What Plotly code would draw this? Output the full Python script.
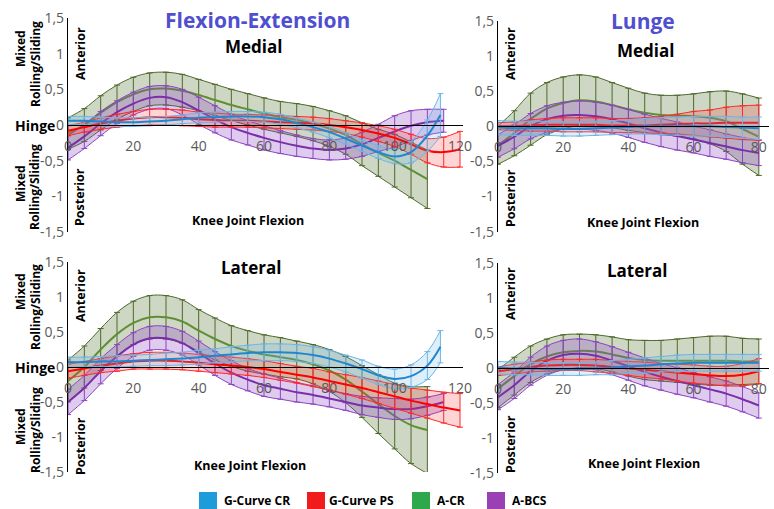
import numpy as np
import plotly.graph_objects as go

W, H = 774, 509

# ---------------- DATA ----------------
series_names = ["G-Curve CR", "G-Curve PS", "A-CR", "A-BCS"]

x_fe_blue = [0,5,10,15,20,25,30,35,40,45,50,55,60,65,70,75,80,85,90,95,100,105,110,114]
x_fe_red = [0,5,10,15,20,25,30,35,40,45,50,55,60,65,70,75,80,85,90,95,100,105,110,115,120]
x_fe_green = [0,5,10,15,20,25,30,35,40,45,50,55,60,65,70,75,80,85,90,95,100,105,110]
x_fe_purple = [0,5,10,15,20,25,30,35,40,45,50,55,60,65,70,75,80,85,90,95,100,105,110,115]
x_lunge = [0,5,10,15,20,25,30,35,40,45,50,55,60,65,70,75,80]

# Flexion-Extension, Medial
fem_blue = [0.06,0.06,0.05,0.04,0.04,0.05,0.06,0.08,0.10,0.11,0.12,0.12,0.11,0.08,0.03,-0.03,-0.10,-0.19,-0.29,-0.38,-0.44,-0.38,-0.15,0.14]
fem_blue_sd = [0.06,0.06,0.06,0.06,0.06,0.06,0.06,0.06,0.07,0.07,0.07,0.07,0.07,0.07,0.07,0.07,0.08,0.08,0.08,0.09,0.10,0.15,0.22,0.30]
fem_red = [-0.08,-0.03,0.02,0.06,0.09,0.11,0.11,0.10,0.08,0.07,0.06,0.06,0.05,0.04,0.03,0.02,0.00,-0.03,-0.07,-0.12,-0.18,-0.27,-0.36,-0.38,-0.34]
fem_red_sd = [0.07,0.07,0.08,0.09,0.10,0.11,0.11,0.11,0.10,0.10,0.09,0.09,0.09,0.09,0.09,0.09,0.09,0.09,0.10,0.11,0.12,0.14,0.17,0.21,0.25]
fem_green = [-0.12,0.00,0.17,0.32,0.43,0.50,0.51,0.48,0.42,0.35,0.28,0.22,0.16,0.11,0.07,0.02,-0.05,-0.14,-0.27,-0.39,-0.50,-0.63,-0.76]
fem_green_sd = [0.22,0.23,0.24,0.24,0.24,0.23,0.23,0.23,0.22,0.22,0.22,0.22,0.22,0.22,0.23,0.24,0.25,0.27,0.30,0.33,0.37,0.39,0.41]
fem_purple = [-0.32,-0.16,0.02,0.18,0.30,0.38,0.39,0.32,0.20,0.08,-0.03,-0.11,-0.18,-0.24,-0.29,-0.33,-0.35,-0.33,-0.27,-0.18,-0.09,-0.01,0.04,0.06]
fem_purple_sd = [0.17,0.17,0.17,0.16,0.16,0.16,0.16,0.18,0.19,0.19,0.18,0.17,0.17,0.16,0.15,0.14,0.14,0.15,0.17,0.19,0.22,0.21,0.18,0.16]

# Flexion-Extension, Lateral
fel_blue = [0.07,0.07,0.08,0.08,0.09,0.10,0.11,0.12,0.14,0.16,0.18,0.20,0.21,0.21,0.20,0.17,0.12,0.05,-0.03,-0.12,-0.17,-0.13,0.02,0.29]
fel_blue_sd = [0.07,0.07,0.07,0.08,0.08,0.08,0.09,0.09,0.10,0.10,0.11,0.11,0.12,0.12,0.12,0.12,0.12,0.12,0.13,0.13,0.14,0.16,0.20,0.23]
fel_red = [-0.06,-0.02,0.02,0.05,0.08,0.09,0.09,0.08,0.06,0.04,0.02,0.00,-0.03,-0.07,-0.11,-0.15,-0.20,-0.25,-0.30,-0.36,-0.42,-0.48,-0.53,-0.58,-0.62]
fel_red_sd = [0.10,0.10,0.10,0.11,0.11,0.12,0.12,0.12,0.12,0.12,0.12,0.12,0.12,0.12,0.12,0.13,0.13,0.14,0.15,0.16,0.17,0.18,0.20,0.22,0.24]
fel_green = [-0.20,0.00,0.25,0.47,0.63,0.71,0.71,0.65,0.52,0.40,0.30,0.23,0.18,0.14,0.10,0.04,-0.05,-0.18,-0.35,-0.53,-0.70,-0.83,-0.90]
fel_green_sd = [0.30,0.30,0.30,0.31,0.31,0.31,0.31,0.31,0.30,0.30,0.29,0.29,0.28,0.28,0.27,0.28,0.30,0.33,0.37,0.42,0.47,0.55,0.62]
fel_purple = [-0.50,-0.30,-0.06,0.15,0.32,0.41,0.41,0.34,0.20,0.05,-0.08,-0.18,-0.26,-0.31,-0.36,-0.40,-0.45,-0.50,-0.55,-0.58,-0.60,-0.60,-0.56,-0.50]
fel_purple_sd = [0.18,0.18,0.18,0.17,0.17,0.17,0.17,0.17,0.17,0.17,0.17,0.16,0.16,0.15,0.14,0.13,0.12,0.12,0.13,0.14,0.15,0.14,0.13,0.12]

# Lunge, Medial
lm_blue = [-0.02,-0.03,-0.03,-0.03,-0.04,-0.04,-0.03,-0.02,-0.01,0.00,0.00,0.00,0.00,0.00,-0.01,-0.02,-0.03]
lm_blue_sd = [0.10,0.10,0.10,0.10,0.10,0.10,0.10,0.10,0.10,0.11,0.12,0.13,0.14,0.14,0.15,0.15,0.16]
lm_red = [0.00,0.00,0.01,0.02,0.02,0.02,0.02,0.01,0.01,0.01,0.02,0.03,0.04,0.04,0.05,0.05,0.05]
lm_red_sd = [0.05,0.06,0.08,0.09,0.10,0.10,0.10,0.10,0.10,0.11,0.12,0.14,0.17,0.19,0.22,0.24,0.25]
lm_green = [-0.27,-0.10,0.10,0.25,0.33,0.37,0.35,0.30,0.24,0.19,0.16,0.15,0.14,0.12,0.07,-0.04,-0.15]
lm_green_sd = [0.27,0.32,0.37,0.37,0.37,0.36,0.35,0.32,0.30,0.28,0.28,0.29,0.32,0.37,0.43,0.50,0.55]
lm_purple = [-0.28,-0.15,0.00,0.10,0.15,0.16,0.14,0.10,0.04,-0.03,-0.09,-0.14,-0.19,-0.24,-0.29,-0.34,-0.38]
lm_purple_sd = [0.16,0.17,0.18,0.19,0.19,0.20,0.20,0.20,0.20,0.20,0.20,0.20,0.19,0.19,0.18,0.18,0.18]

# Lunge, Lateral
ll_blue = [0.00,-0.01,-0.01,-0.02,-0.02,-0.02,-0.01,0.00,0.02,0.03,0.05,0.06,0.07,0.07,0.07,0.07,0.07]
ll_blue_sd = [0.09,0.09,0.09,0.09,0.09,0.09,0.09,0.10,0.10,0.11,0.11,0.12,0.12,0.12,0.12,0.12,0.12]
ll_red = [-0.05,-0.02,0.01,0.03,0.04,0.04,0.03,0.01,-0.01,-0.03,-0.05,-0.07,-0.09,-0.11,-0.12,-0.10,-0.05]
ll_red_sd = [0.06,0.07,0.07,0.08,0.08,0.08,0.09,0.09,0.10,0.11,0.11,0.12,0.13,0.13,0.14,0.16,0.18]
ll_green = [-0.30,-0.12,0.05,0.16,0.22,0.24,0.23,0.19,0.14,0.11,0.10,0.10,0.10,0.10,0.10,0.09,0.09]
ll_green_sd = [0.27,0.27,0.26,0.25,0.25,0.24,0.24,0.25,0.26,0.28,0.29,0.31,0.33,0.35,0.35,0.33,0.32]
ll_purple = [-0.42,-0.25,-0.05,0.10,0.18,0.20,0.17,0.10,0.02,-0.06,-0.13,-0.19,-0.25,-0.31,-0.37,-0.45,-0.54]
ll_purple_sd = [0.18,0.19,0.20,0.21,0.21,0.21,0.20,0.20,0.20,0.20,0.19,0.19,0.18,0.18,0.18,0.18,0.18]

fe_ticks = [0, 20, 40, 60, 80, 100, 120]
lunge_ticks = [0, 20, 40, 60, 80]
y_ticks = [-1.5, -1, -0.5, 0, 0.5, 1, 1.5]
y_ticktext = ["-1,5", "-1", "-0,5", "0", "0,5", "1", "1,5"]

# ---------------- STYLE ----------------
STY = {
    "A-CR": dict(mean="#5f8f35", bar="#4e6a2a", fill="rgba(78,106,42,0.28)"),
    "A-BCS": dict(mean="#7a2fa8", bar="#8c45c2", fill="rgba(140,69,194,0.28)"),
    "G-Curve PS": dict(mean="#ff0000", bar="#ff2a2a", fill="rgba(255,40,40,0.2)"),
    "G-Curve CR": dict(mean="#1f86d0", bar="#6fb5e6", fill="rgba(111,181,230,0.22)"),
}
LEG = {"G-Curve CR": "#1e9bdb", "G-Curve PS": "#f21b1b", "A-CR": "#2ea84a", "A-BCS": "#9b3fb5"}

FONT = "Open Sans"

def px(x):
    return x / W

def py(y):
    return 1 - y / H

fig = go.Figure()

panels = [
    ("", (68, 68 + 121 * 3.267), 18, 232, [0, 121], fe_ticks,
     [("A-CR", x_fe_green, fem_green, fem_green_sd),
      ("A-BCS", x_fe_purple, fem_purple, fem_purple_sd),
      ("G-Curve PS", x_fe_red, fem_red, fem_red_sd),
      ("G-Curve CR", x_fe_blue, fem_blue, fem_blue_sd)]),
    ("2", (498, 498 + 83 * 3.26), 20.7, 231.7, [0, 83], lunge_ticks,
     [("A-CR", x_lunge, lm_green, lm_green_sd),
      ("A-BCS", x_lunge, lm_purple, lm_purple_sd),
      ("G-Curve PS", x_lunge, lm_red, lm_red_sd),
      ("G-Curve CR", x_lunge, lm_blue, lm_blue_sd)]),
    ("3", (68, 68 + 121 * 3.267), 262, 472, [0, 121], fe_ticks,
     [("A-CR", x_fe_green, fel_green, fel_green_sd),
      ("A-BCS", x_fe_purple, fel_purple, fel_purple_sd),
      ("G-Curve PS", x_fe_red, fel_red, fel_red_sd),
      ("G-Curve CR", x_fe_blue, fel_blue, fel_blue_sd)]),
    ("4", (498, 498 + 83 * 3.26), 262.7, 472.7, [0, 83], lunge_ticks,
     [("A-CR", x_lunge, ll_green, ll_green_sd),
      ("A-BCS", x_lunge, ll_purple, ll_purple_sd),
      ("G-Curve PS", x_lunge, ll_red, ll_red_sd),
      ("G-Curve CR", x_lunge, ll_blue, ll_blue_sd)]),
]

layout_axes = {}
for suf, (x0, x1), ytop, ybot, xr, ticks, data in panels:
    xa = "x" + suf
    ya = "y" + suf
    for name, xs, m, sd in data:
        s = STY[name]
        m_arr = np.array(m)
        sd_arr = np.array(sd)
        lo = (m_arr - sd_arr).tolist()
        hi = (m_arr + sd_arr).tolist()
        fig.add_trace(go.Scatter(x=xs, y=lo, mode="lines", line=dict(color=s["bar"], width=1, shape="spline"),
                                 xaxis=xa, yaxis=ya, showlegend=False, hoverinfo="skip"))
        fig.add_trace(go.Scatter(x=xs, y=hi, mode="lines", line=dict(color=s["bar"], width=1, shape="spline"),
                                 fill="tonexty", fillcolor=s["fill"],
                                 xaxis=xa, yaxis=ya, showlegend=False, hoverinfo="skip"))
        fig.add_trace(go.Scatter(x=xs, y=m, mode="lines", name=name,
                                 line=dict(color=s["mean"], width=2, shape="spline"),
                                 error_y=dict(type="data", array=sd, visible=True, color=s["bar"],
                                              thickness=1, width=3),
                                 xaxis=xa, yaxis=ya, showlegend=False))
    zero_px = (ytop + ybot) / 2
    xkey = "xaxis" + suf
    ykey = "yaxis" + suf
    layout_axes[xkey] = dict(domain=[px(x0), px(x1)], range=xr, anchor="free", position=py(zero_px),
                             showline=True, linecolor="black", linewidth=1, automargin=False,
                             tickvals=ticks, ticks="outside", ticklen=8, tickcolor="rgba(0,0,0,0)",
                             tickfont=dict(family=FONT, size=14, color="#595959"),
                             showgrid=False, zeroline=False)
    layout_axes[ykey] = dict(domain=[py(ybot), py(ytop)], range=[-1.5, 1.5], anchor=xa, automargin=False,
                             tickvals=y_ticks, ticktext=y_ticktext, ticks="",
                             tickfont=dict(family=FONT, size=14, color="#595959"),
                             showline=True, linecolor="black", linewidth=1.3,
                             showgrid=False, zeroline=False)

fig.update_layout(**layout_axes)

anns = []

def ann(text, x, y, size=11, color="black", bold=True, angle=0):
    t = "<b>" + text + "</b>" if bold else text
    anns.append(dict(text=t, x=px(x), y=py(y), xref="paper", yref="paper", showarrow=False,
                     xanchor="center", yanchor="middle", textangle=angle,
                     font=dict(family=FONT, size=size, color=color)))

ann("Flexion-Extension", 257, 20, 21, "#4f4fd0")
ann("Lunge", 643, 21, 21, "#4f4fd0")
ann("Medial", 253, 47, 17)
ann("Medial", 645, 50, 17)
ann("Lateral", 251, 267, 17)
ann("Lateral", 637, 270, 17)
ann("Knee Joint Flexion", 248, 220, 12.5)
ann("Knee Joint Flexion", 643, 222, 12.5)
ann("Knee Joint Flexion", 250, 465, 12.5)
ann("Knee Joint Flexion", 644, 463, 12.5)
ann("Hinge", 35, 125, 14)
ann("Hinge", 35, 367, 14)

for (my, ry) in [(49, 64), (184, 187), (292, 307), (427, 430)]:
    ann("Mixed", 20, my, 12, angle=-90)
    ann("Rolling/Sliding", 35, ry, 12, angle=-90)

for (x, y, t) in [(80, 54, "Anterior"), (80, 197, "Posterior"), (510, 53, "Anterior"), (510, 198, "Posterior"),
                  (80, 296, "Anterior"), (80, 446, "Posterior"), (510, 293, "Anterior"), (510, 444, "Posterior")]:
    ann(t, x, y, 12.5, angle=-90)

# legend
shapes = []
leg_pos = [("G-Curve CR", 199, 222), ("G-Curve PS", 307, 327), ("A-CR", 412, 435), ("A-BCS", 487, 510)]
for name, sx, tx in leg_pos:
    shapes.append(dict(type="rect", xref="paper", yref="paper", x0=px(sx), x1=px(sx + 18),
                       y0=py(509), y1=py(492), fillcolor=LEG[name], line=dict(width=0)))
    anns.append(dict(text="<b>" + name + "</b>", x=px(tx), y=py(500), xref="paper", yref="paper",
                     showarrow=False, xanchor="left", yanchor="middle",
                     font=dict(family=FONT, size=12, color="black")))

fig.update_layout(annotations=anns, shapes=shapes, width=W, height=H,
                  margin=dict(l=0, r=0, t=0, b=0), paper_bgcolor="white", plot_bgcolor="white",
                  showlegend=False)

fig.write_html("out.html", config={"displayModeBar": False},
               post_script="document.body.style.margin='0';document.body.style.padding='0';"
                           "document.documentElement.style.overflow='hidden';")
